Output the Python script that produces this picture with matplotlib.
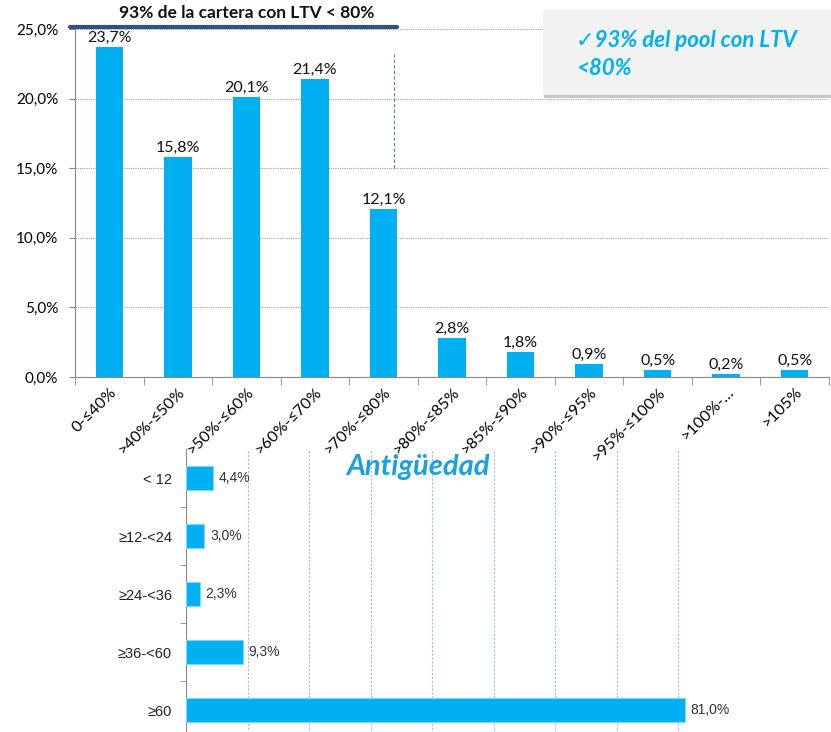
import matplotlib
matplotlib.use("Agg")
import matplotlib.pyplot as plt
from matplotlib.patches import Rectangle

# LTV distribution (top chart)
ltv_labels = ["0-≤40%", ">40%-≤50%", ">50%-≤60%", ">60%-≤70%", ">70%-≤80%",
              ">80%-≤85%", ">85%-≤90%", ">90%-≤95%", ">95%-≤100%", ">100%-…", ">105%"]
ltv_values = [23.7, 15.8, 20.1, 21.4, 12.1, 2.8, 1.8, 0.9, 0.5, 0.2, 0.5]
ltv_yticks = [0, 5, 10, 15, 20, 25]

# Antigüedad (bottom chart)
age_labels = ["< 12", "≥12-<24", "≥24-<36", "≥36-<60", "≥60"]
age_values = [4.4, 3.0, 2.3, 9.3, 81.0]
age_grid = [10, 20, 30, 40, 50, 60, 70, 80]

BLUE = "#00B0F0"


def fmt(v):
    return f"{v:.1f}".replace(".", ",") + "%"


W, H = 831, 732
fig = plt.figure(figsize=(W / 100, H / 100), dpi=100)

# ---------------- top chart ----------------
top_font = ["Lato", "DejaVu Sans"]
ax = fig.add_axes([75 / W, 1 - 377 / H, (829 - 75) / W, (377 - 29) / H])
x = list(range(len(ltv_values)))
ax.bar(x, ltv_values, width=0.4, color=BLUE, zorder=3)
for xi, v in zip(x, ltv_values):
    ax.annotate(fmt(v), (xi, v), xytext=(0, 1.5), textcoords="offset points",
                ha="center", va="bottom", fontsize=11.5, family=top_font, color="#111111")
ax.set_xlim(-0.5, len(ltv_values) - 0.5)
ax.set_ylim(0, 25)
ax.set_yticks(ltv_yticks)
ax.set_yticklabels([fmt(t) for t in ltv_yticks], fontsize=11, family=top_font)
ax.yaxis.grid(True, linestyle=(0, (1, 1)), color="#A0A0A0", linewidth=0.8, zorder=0)
ax.set_xticks(x)
ax.set_xticklabels(ltv_labels, rotation=45, ha="right", rotation_mode="anchor",
                   fontsize=11.5, family=top_font)
ax.tick_params(axis="x", length=0, pad=6)
ax.set_xticks([i - 0.5 for i in range(len(ltv_values) + 1)], minor=True)
ax.tick_params(axis="x", which="minor", length=6, color="#888888")
ax.tick_params(axis="y", length=4, color="#888888", pad=8)
for s in ["top", "right"]:
    ax.spines[s].set_visible(False)
for s in ["left", "bottom"]:
    ax.spines[s].set_color("#888888")

# header line and note above the first five bars
ax.plot([-0.57, 4.2], [25.15, 25.15], color="#2E5283", linewidth=3,
        solid_capstyle="round", clip_on=False, zorder=5)
ax.text(2.0, 25.55, "93% de la cartera con LTV < 80%", ha="center", va="bottom",
        fontsize=12.5, fontweight="bold", family=top_font, color="#111111")
ax.plot([4.16, 4.16], [15, 23.2], color="#4F81BD", linewidth=0.8,
        linestyle=(0, (3, 2)), zorder=4)

# callout box top right
fig.patches.append(Rectangle((544 / W, 1 - 98 / H), 0.4, 86 / H, transform=fig.transFigure,
                             facecolor="#C8C8C8", edgecolor="none", zorder=1))
fig.patches.append(Rectangle((543 / W, 1 - 95 / H), 0.4, 85 / H, transform=fig.transFigure,
                             facecolor="#F2F2F2", edgecolor="none", zorder=2))
fig.text(576 / W, 1 - 30 / H, "✓93% del pool con LTV\n<80%", ha="left", va="top",
         fontsize=16, fontweight="bold", style="italic", color=BLUE,
         family=top_font, linespacing=1.4, zorder=3)

# ---------------- bottom chart ----------------
bot_font = ["Liberation Sans", "DejaVu Sans"]
ax2 = fig.add_axes([186 / W, 1 - 739 / H, (740 - 186) / W, (739 - 449) / H])
ax2.set_facecolor("none")
y = list(range(len(age_values)))
ax2.barh(y, age_values, height=0.4, color=BLUE, edgecolor="#7FD6F7", linewidth=0.8, zorder=3)
for yi, v in zip(y, age_values):
    ax2.annotate(fmt(v), (v, yi), xytext=(4, 0), textcoords="offset points",
                 ha="left", va="center", fontsize=10, family=bot_font, color="#333333")
ax2.set_ylim(len(age_values) - 0.5, -0.5)
ax2.set_xlim(0, 90)
ax2.set_yticks(y)
ax2.set_yticklabels(age_labels, fontsize=10.5, family=bot_font, color="#222222")
ax2.tick_params(axis="y", length=0, pad=10)
ax2.set_yticks([i + 0.5 for i in range(len(age_values) - 1)], minor=True)
ax2.tick_params(axis="y", which="minor", length=4, color="#888888")
ax2.set_xticks(age_grid)
ax2.set_xticklabels([])
ax2.tick_params(axis="x", length=0)
ax2.xaxis.grid(True, linestyle=(0, (2, 1.5)), color="#9DBDE6", linewidth=0.8, zorder=0)
for s in ["top", "right", "bottom"]:
    ax2.spines[s].set_visible(False)
ax2.spines["left"].set_color("#888888")
fig.text(418 / W, 1 - 467 / H, "Antigüedad", ha="center", va="center",
         fontsize=21, fontweight="bold", style="italic", color="#1BA1DC", family=top_font)

fig.savefig("out.png", dpi=100)
